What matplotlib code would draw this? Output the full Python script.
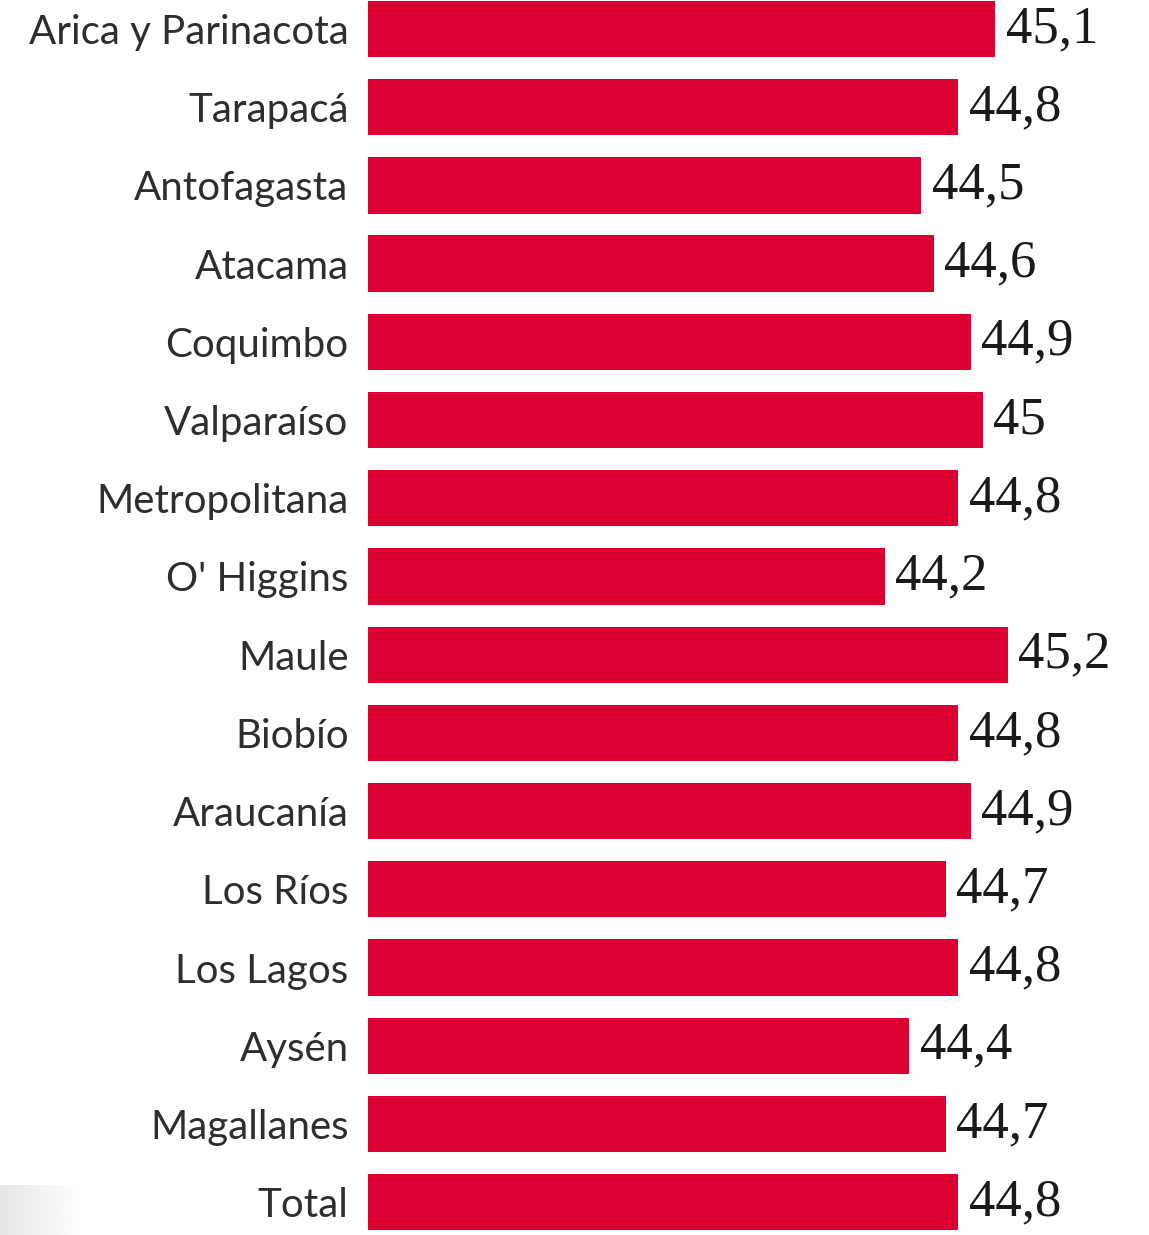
import matplotlib.pyplot as plt
import numpy as np

regions = ['Arica y Parinacota', 'Tarapacá', 'Antofagasta', 'Atacama', 'Coquimbo',
           'Valparaíso', 'Metropolitana', "O' Higgins", 'Maule', 'Biobío',
           'Araucanía', 'Los Ríos', 'Los Lagos', 'Aysén', 'Magallanes', 'Total']
values = [45.1, 44.8, 44.5, 44.6, 44.9, 45.0, 44.8, 44.2, 45.2, 44.8,
          44.9, 44.7, 44.8, 44.4, 44.7, 44.8]
value_labels = ['45,1', '44,8', '44,5', '44,6', '44,9', '45', '44,8', '44,2', '45,2', '44,8',
                '44,9', '44,7', '44,8', '44,4', '44,7', '44,8']

fig = plt.figure(figsize=(11.49, 12.35), dpi=100)
ax = fig.add_axes([368 / 1149, 0, 1 - 368 / 1149, 1])

y = np.arange(len(regions))
base = 40
ax.barh(y, [v - base for v in values], left=base, height=0.72, color='#dc0032')

ax.set_xlim(40, 46.35)
ax.set_ylim(15.42, -0.371)

for yi, v, lab in zip(y, values, value_labels):
    ax.annotate(lab, (v, yi), xytext=(7.5, 0), textcoords='offset points',
                ha='left', va='center', fontsize=38, family='Liberation Serif',
                color='#1a1a1a')

ax.set_yticks(y)
ax.set_yticklabels(regions, fontsize=29, family='Lato', color='#2e2e2e')
ax.tick_params(axis='y', length=0, pad=14)
ax.set_xticks([])
for s in ax.spines.values():
    s.set_visible(False)

# faint grey smudge at bottom left
grad = np.linspace(0.9, 1.0, 50).reshape(1, -1)
gax = fig.add_axes([0, 0, 85 / 1149, 50 / 1235])
gax.imshow(grad, cmap='gray', vmin=0, vmax=1, aspect='auto')
gax.axis('off')

fig.savefig('out.png', dpi=100)
